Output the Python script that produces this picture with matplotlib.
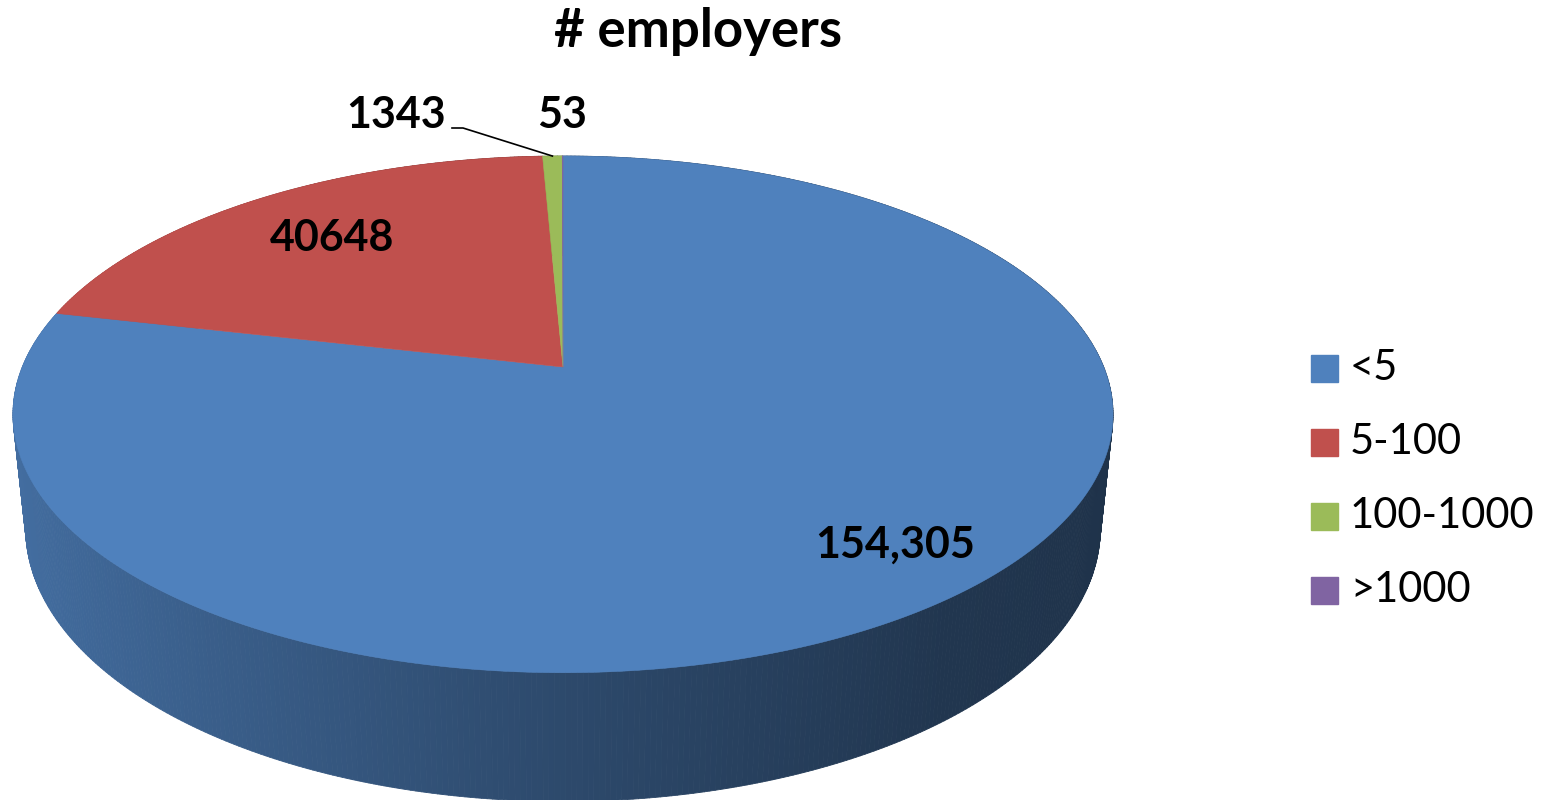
import numpy as np
import matplotlib.pyplot as plt
from matplotlib.collections import PolyCollection
from matplotlib.patches import Rectangle

#%% data
categories = ['<5', '5-100', '100-1000', '>1000']
values = [154305, 40648, 1343, 53]
labels = ['154,305', '40648', '1343', '53']
colors = ['#4F81BD', '#C0504D', '#9BBB59', '#8064A2']

#%% 3d view settings (pixel space)
W, H = 1548, 800
cx, cy = 563, 367      # where the pie centre lands
S = 2617               # projection scale
elev = np.radians(27.5)
dist = 4.84
thick = 0.24

ce, se = np.cos(elev), np.sin(elev)


def project(x, y, z):
    # pinhole camera looking at the origin from above/front
    vx = x
    vy = y + dist * ce
    vz = z - dist * se
    depth = vy * ce - vz * se
    up = vy * se + vz * ce
    return cx + S * vx / depth, cy - S * up / depth, depth


def shade(rgb, nx):
    f = np.interp(nx, [-1, 0, 0.6, 1], [0.86, 0.57, 0.42, 0.39])
    return tuple(np.clip(np.array(rgb) * f, 0, 1))


fig = plt.figure(figsize=(W / 100, H / 100), dpi=100)
ax = fig.add_axes([0, 0, 1, 1])
ax.set_xlim(0, W)
ax.set_ylim(H, 0)
ax.axis('off')

# slice angles, clockwise from 12 o'clock
fr = np.array(values) / np.sum(values)
edges = 90 - 360 * np.concatenate([[0], np.cumsum(fr)])

# side wall
polys, fcols, depths = [], [], []
for i in range(len(values)):
    a0, a1 = edges[i], edges[i + 1]
    n = max(2, int(abs(a1 - a0) / 0.5))
    t = np.radians(np.linspace(a0, a1, n + 1))
    rgb = plt.matplotlib.colors.to_rgb(colors[i])
    for k in range(n):
        ta, tb = t[k], t[k + 1]
        xs = np.cos([ta, tb, tb, ta])
        ys = np.sin([ta, tb, tb, ta])
        zs = np.array([0, 0, -thick, -thick])
        px, py, dp = project(xs, ys, zs)
        polys.append(np.column_stack([px, py]))
        fcols.append(shade(rgb, np.cos((ta + tb) / 2)))
        depths.append(dp.mean())
order = np.argsort(depths)[::-1]
pc = PolyCollection([polys[j] for j in order],
                    facecolors=[fcols[j] for j in order],
                    edgecolors=[fcols[j] for j in order], linewidths=0.6)
ax.add_collection(pc)

# top faces
for i in range(len(values)):
    a0, a1 = edges[i], edges[i + 1]
    n = max(2, int(abs(a1 - a0) / 0.5))
    t = np.radians(np.linspace(a0, a1, n + 1))
    xs = np.concatenate([[0], np.cos(t)])
    ys = np.concatenate([[0], np.sin(t)])
    px, py, _ = project(xs, ys, np.zeros_like(xs))
    ax.fill(px, py, color=colors[i], lw=0.4, ec=colors[i])

# data labels
lab_pos = [(895, 545), (332, 238), (396, 115), (562, 115)]
for (lx, ly), txt in zip(lab_pos, labels):
    ax.text(lx, ly, txt, ha='center', va='center', fontsize=31,
            fontweight='bold', family='Lato', color='black')

# leader line for the small slice
gmid = np.radians((edges[2] + edges[3]) / 2)
gx, gy, _ = project(np.cos(gmid), np.sin(gmid), 0.0)
ax.plot([452, 463, gx], [128, 128, gy], color='black', lw=1.2)

ax.text(698, 32, '# employers', ha='center', va='center', fontsize=38,
        fontweight='bold', family='Lato')

# legend
for i, cat in enumerate(categories):
    yy = 368 + 74 * i
    ax.add_patch(Rectangle((1311, yy - 13.5), 27, 27, color=colors[i]))
    ax.text(1350, yy, cat, ha='left', va='center', fontsize=30, family='Lato')

fig.savefig('out.png', dpi=100)
